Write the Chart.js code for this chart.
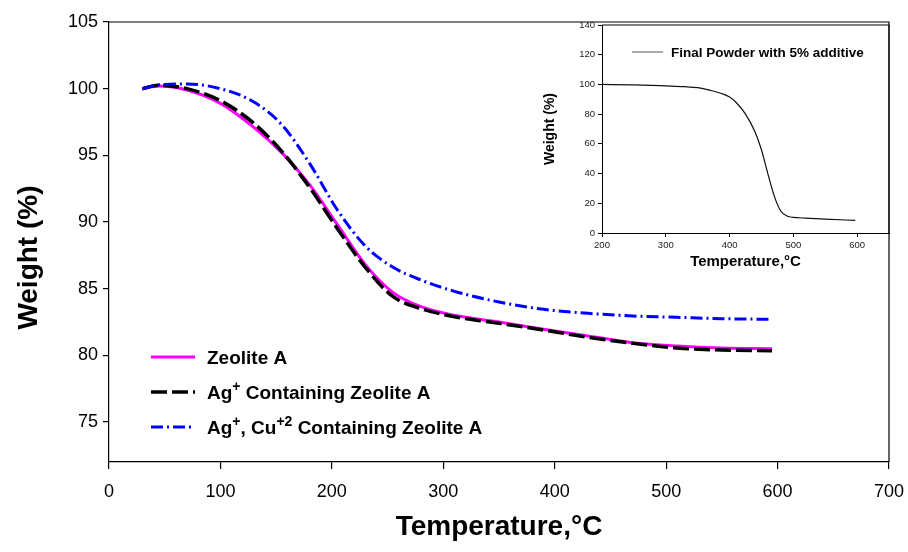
<!DOCTYPE html>
<html>
<head>
<meta charset="utf-8">
<script src="https://cdn.jsdelivr.net/npm/chart.js@4.4.0/dist/chart.umd.min.js"></script>
<style>
  body { margin: 0; background: #fff; }
  #wrap { position: relative; width: 908px; height: 552px; }
  #main { position: absolute; left: 0; top: 0; }
  #inset { position: absolute; left: 530px; top: 0; }
</style>
</head>
<body>
<div id="wrap">
  <canvas id="main" width="908" height="552"></canvas>
  <canvas id="inset" width="362" height="280"></canvas>
</div>
<script>
const FONT = '"Liberation Sans", Arial, sans-serif';

// main TGA curves
const temps       = [30, 45, 70, 100, 130, 155, 180, 205, 230, 255, 280, 310, 350, 390, 430, 470, 510, 550, 595];
const zeoliteA    = [100.0, 100.2, 99.9, 98.9, 97.1, 95.2, 92.8, 89.8, 86.8, 84.7, 83.65, 83.0, 82.5, 81.95, 81.45, 80.95, 80.7, 80.55, 80.5];
const agZeolite   = [100.0, 100.25, 100.0, 99.1, 97.4, 95.3, 92.6, 89.5, 86.6, 84.4, 83.5, 82.9, 82.4, 81.9, 81.35, 80.9, 80.55, 80.4, 80.35];
const agCuZeolite = [100.0, 100.3, 100.35, 100.0, 99.0, 97.3, 94.4, 90.9, 88.2, 86.6, 85.65, 84.8, 84.0, 83.45, 83.15, 82.95, 82.85, 82.75, 82.7];
const seriesLabels = ['Zeolite A', 'Ag^{+} Containing Zeolite A', 'Ag^{+}, Cu^{+2} Containing Zeolite A'];
const xTicks = [0, 100, 200, 300, 400, 500, 600, 700];
const yTicks = [75, 80, 85, 90, 95, 100, 105];

// inset curve
const insetTemps  = [200, 250, 300, 330, 350, 370, 390, 400, 410, 425, 440, 450, 460, 470, 480, 490, 500, 520, 550, 597];
const insetWeight = [100, 99.7, 99.0, 98.5, 97.8, 96.0, 93.5, 91.5, 88.0, 80.0, 68.0, 56.0, 40.0, 25.0, 15.0, 11.5, 10.5, 10.0, 9.3, 8.5];
const insetLabel  = 'Final Powder with 5% additive';
const insetXTicks = [200, 300, 400, 500, 600];
const insetYTicks = [0, 20, 40, 60, 80, 100, 120, 140];

const pts = (xs, ys) => xs.map((x, i) => ({ x: x, y: ys[i] }));

// top + right edges of the plot box
const frame = {
  id: 'frame',
  afterDatasetsDraw(chart, args, opts) {
    const { ctx, chartArea: a } = chart;
    ctx.save();
    ctx.strokeStyle = '#000';
    ctx.lineWidth = opts.width || 1;
    ctx.beginPath();
    ctx.moveTo(a.left, a.top);
    ctx.lineTo(a.right, a.top);
    ctx.lineTo(a.right, a.bottom);
    ctx.stroke();
    ctx.restore();
  }
};

// legend inside the plot, with superscripts written as ^{...}
const supLegend = {
  id: 'supLegend',
  afterDraw(chart, args, o) {
    const { ctx, chartArea: a } = chart;
    let y = a.top + o.top;
    chart.data.datasets.forEach(ds => {
      const x0 = a.left + o.left;
      ctx.save();
      ctx.strokeStyle = o.lineColor || ds.borderColor;
      ctx.lineWidth = o.lineWidth || ds.borderWidth;
      ctx.setLineDash(o.dash || ds.borderDash || []);
      ctx.beginPath();
      ctx.moveTo(x0, y);
      ctx.lineTo(x0 + o.lineLen, y);
      ctx.stroke();
      ctx.restore();

      ctx.save();
      ctx.fillStyle = '#000';
      ctx.textBaseline = 'alphabetic';
      let x = x0 + o.lineLen + o.gap;
      const base = y + o.size * 0.36;
      ds.label.split(/(\^\{[^}]*\})/).forEach(part => {
        if (!part) return;
        if (part.startsWith('^{')) {
          const t = part.slice(2, -1);
          ctx.font = 'bold ' + o.supSize + 'px ' + FONT;
          ctx.fillText(t, x, base - o.size * 0.42);
          x += ctx.measureText(t).width;
        } else {
          ctx.font = 'bold ' + o.size + 'px ' + FONT;
          ctx.fillText(part, x, base);
          x += ctx.measureText(part).width;
        }
      });
      ctx.restore();
      y += o.spacing;
    });
  }
};

new Chart(document.getElementById('main'), {
  type: 'line',
  data: {
    datasets: [
      { label: seriesLabels[0], data: pts(temps, zeoliteA), borderColor: '#ff00ff', borderWidth: 3, order: 3 },
      { label: seriesLabels[1], data: pts(temps, agZeolite), borderColor: '#000000', borderWidth: 3.5, borderDash: [16, 5], order: 2 },
      { label: seriesLabels[2], data: pts(temps, agCuZeolite), borderColor: '#0000ff', borderWidth: 3, borderDash: [12, 4, 2, 4], order: 1 }
    ]
  },
  options: {
    responsive: false,
    animation: false,
    layout: { padding: { top: 22, right: 19, bottom: 0, left: 0 } },
    elements: {
      point: { radius: 0 },
      line: { cubicInterpolationMode: 'monotone', fill: false }
    },
    plugins: {
      legend: { display: false },
      tooltip: { enabled: false },
      frame: { width: 1.2 },
      supLegend: { left: 42, top: 335, lineLen: 44, gap: 12, spacing: 35, size: 19, supSize: 14 }
    },
    scales: {
      x: {
        type: 'linear', min: 0, max: 700,
        afterBuildTicks: s => { s.ticks = xTicks.map(v => ({ value: v })); },
        afterFit: s => { s.height = 90; s.paddingLeft = 0; s.paddingRight = 0; },
        grid: { drawOnChartArea: false, tickLength: 7, color: '#000', lineWidth: 1.2 },
        border: { color: '#000', width: 1.2 },
        ticks: { color: '#000', font: { size: 18, family: FONT }, padding: 12, maxRotation: 0 },
        title: { display: true, text: 'Temperature,°C', color: '#000',
                 font: { size: 28, weight: 'bold', family: FONT }, padding: { top: 0, bottom: 8 } }
      },
      y: {
        min: 72, max: 105,
        afterBuildTicks: s => { s.ticks = yTicks.map(v => ({ value: v })); },
        afterFit: s => { s.width = 109; s.paddingTop = 0; s.paddingBottom = 0; },
        grid: { drawOnChartArea: false, tickLength: 6, color: '#000', lineWidth: 1.2 },
        border: { color: '#000', width: 1.2 },
        ticks: { color: '#000', font: { size: 18, family: FONT }, padding: 5 },
        title: { display: true, text: 'Weight (%)    ', color: '#000',
                 font: { size: 28, weight: 'bold', family: FONT }, padding: { top: 12, bottom: 0 } }
      }
    }
  },
  plugins: [frame, supLegend]
});

new Chart(document.getElementById('inset'), {
  type: 'line',
  data: {
    datasets: [
      { label: insetLabel, data: pts(insetTemps, insetWeight), borderColor: '#111', borderWidth: 1.2 }
    ]
  },
  options: {
    responsive: false,
    animation: false,
    layout: { padding: { top: 25, right: 3, bottom: 0, left: 0 } },
    elements: {
      point: { radius: 0 },
      line: { cubicInterpolationMode: 'monotone', fill: false }
    },
    plugins: {
      legend: { display: false },
      tooltip: { enabled: false },
      frame: { width: 1 },
      supLegend: { left: 30, top: 27, lineLen: 31, gap: 8, spacing: 20, size: 13.5, supSize: 10, lineColor: '#555', lineWidth: 1 }
    },
    scales: {
      x: {
        type: 'linear', min: 200, max: 650,
        afterBuildTicks: s => { s.ticks = insetXTicks.map(v => ({ value: v })); },
        afterFit: s => { s.height = 47; s.paddingLeft = 0; s.paddingRight = 0; },
        grid: { drawOnChartArea: false, tickLength: 4, color: '#000', lineWidth: 1 },
        border: { color: '#000', width: 1 },
        ticks: { color: '#222', font: { size: 9.5, family: FONT }, padding: 3, maxRotation: 0 },
        title: { display: true, text: 'Temperature,°C', color: '#000',
                 font: { size: 15, weight: 'bold', family: FONT }, padding: { top: 0, bottom: 9 } }
      },
      y: {
        min: 0, max: 140,
        afterBuildTicks: s => { s.ticks = insetYTicks.map(v => ({ value: v })); },
        afterFit: s => { s.width = 72; s.paddingTop = 0; s.paddingBottom = 0; },
        grid: { drawOnChartArea: false, tickLength: 4, color: '#000', lineWidth: 1 },
        border: { color: '#000', width: 1 },
        ticks: { color: '#222', font: { size: 9.5, family: FONT }, padding: 3 },
        title: { display: true, text: 'Weight (%)', color: '#000',
                 font: { size: 14, weight: 'bold', family: FONT }, padding: { top: 12, bottom: 0 } }
      }
    }
  },
  plugins: [frame, supLegend]
});
</script>
</body>
</html>
